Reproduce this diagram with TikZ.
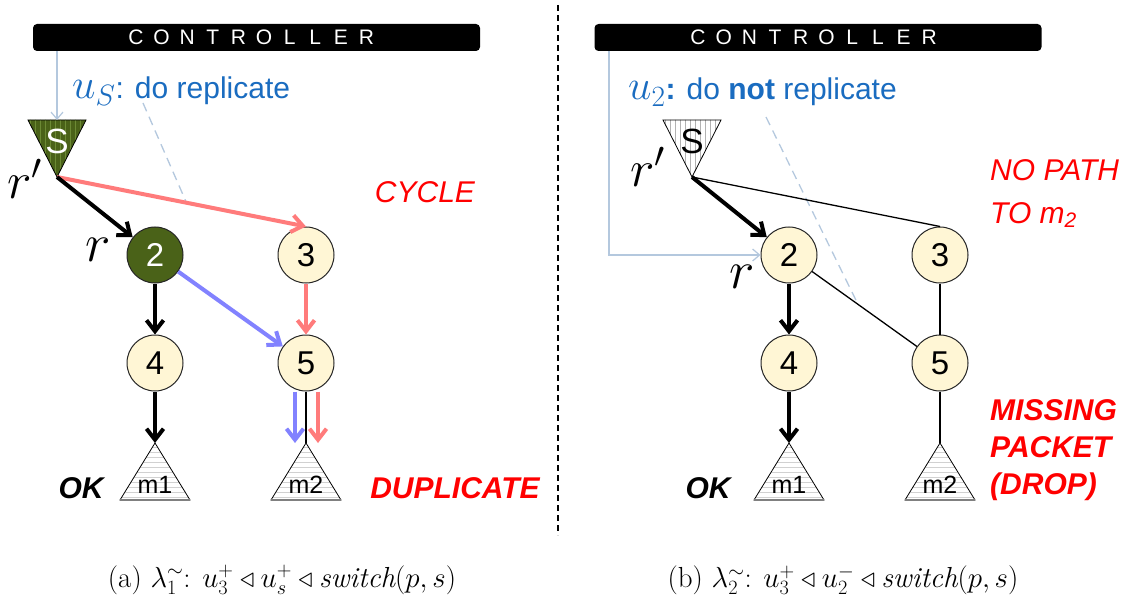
\documentclass[tikz,border=0pt]{standalone}
\usepackage{fix-cm}
\usepackage{fontspec}
\newfontfamily\arial{Liberation Sans}
\usetikzlibrary{arrows.meta,calc}
\definecolor{dgreen}{HTML}{4A6218}
\definecolor{stripeg}{HTML}{6C8A34}
\definecolor{cream}{HTML}{FFF6D5}
\definecolor{salmon}{HTML}{FF7B7B}
\definecolor{lblue}{HTML}{8282FF}
\definecolor{txtblue}{HTML}{1A6CC0}
\definecolor{ctrlline}{HTML}{B4C8DE}
\definecolor{txtred}{HTML}{FF0000}
\newcommand\fsz[1]{\fontsize{#1}{#1}\selectfont}
\tikzset{
  circ/.style={circle, draw=black!85, line width=1pt, fill=cream, minimum size=56pt, inner sep=0pt, font=\arial\fsz{33}},
  ctrlbar/.style={fill=black, rounded corners=4pt, minimum width=447pt, minimum height=27pt, inner sep=0pt},
  ctrltxt/.style={text=white, font=\arial\fsz{21}, inner sep=0pt},
  bigarr/.style={-{Straight Barb[length=11pt,width=17pt]}, line width=4pt, black},
  redarr/.style={-{Straight Barb[length=11pt,width=17pt]}, line width=4pt, salmon},
  bluarr/.style={-{Straight Barb[length=11pt,width=17pt]}, line width=4pt, lblue},
  thinl/.style={line width=1.3pt, black},
  ctrlarr/.style={-{Straight Barb[length=7pt,width=12pt]}, line width=1.2pt, ctrlline},
  dashl/.style={ctrlline, line width=1.3pt, dash pattern=on 9pt off 6pt},
  mtxt/.style={font=\arial\fsz{25}, inner sep=0pt},
  lbl/.style={inner sep=0pt},
  redtxt/.style={text=txtred, font=\arial\itshape\fsz{30}, inner sep=0pt},
  redbold/.style={text=txtred, font=\arial\bfseries\itshape\fsz{30}, inner sep=0pt},
  oktxt/.style={font=\arial\bfseries\itshape\fsz{30}, inner sep=0pt},
  captxt/.style={font=\fsz{29}, inner sep=0pt}
}
% S triangle: name, cx, fill, stripe colour
\newcommand\stri[4]{%
  \begin{scope}
    \clip ({#2-29},-120) -- ({#2+29},-120) -- (#2,-177) -- cycle;
    \fill[#3] ({#2-30},-119) rectangle ({#2+30},-178);
    \foreach \k in {-27,-22,...,28} \draw[#4, line width=0.9pt] ({#2+\k},-119) -- ({#2+\k},-178);
  \end{scope}
  \draw[line width=0.8pt, black] ({#2-29},-120) -- ({#2+29},-120) -- (#2,-177) -- cycle;
  \coordinate (#1) at (#2,-177);
}
% m triangle: name, cx, label
\newcommand\mtri[3]{%
  \begin{scope}
    \clip (#2,-443) -- ({#2-35},-500) -- ({#2+35},-500) -- cycle;
    \fill[white] ({#2-36},-442) rectangle ({#2+36},-501);
    \foreach \k in {-447,-452,...,-500} \draw[black!18, line width=1pt] ({#2-36},\k) -- ({#2+36},\k);
  \end{scope}
  \draw[line width=0.8pt, black] (#2,-443) -- ({#2-35},-500) -- ({#2+35},-500) -- cycle;
  \draw[line width=2pt, black!50] ({#2-35},-500) -- ({#2+35},-500);
  \coordinate (#1) at (#2,-443);
  \node[mtxt] (#1t) at (#2,-485) {#3};
}
\begin{document}
\begin{tikzpicture}[x=1pt,y=1pt]
\useasboundingbox (0,0) rectangle (1127,-604);
\fill[white] (0,0) rectangle (1127,-604);

% divider
\draw[black, line width=1.3pt, dash pattern=on 6pt off 4pt] (558,-5) -- (558,-535);

%% ---------------- left panel ----------------
\node[ctrlbar] (ctrlL) at (256.5,-37.5) {};
\foreach \c [count=\i from 0] in {C,O,N,T,R,O,L,L,E,R}
  \node[ctrltxt] (cl\i) at ({136+25.6*\i},-37.5) {\c};

\stri{Sl}{57}{dgreen}{stripeg}
\node[lbl, text=white, font=\arial\fsz{35}] (Slt) at (57,-141) {S};
\coordinate (SlTop) at (57,-120);
\draw[ctrlarr] (ctrlL.south -| SlTop) -- (SlTop);

\node[lbl, anchor=west, text=txtblue, font=\arial\fsz{30}] (uS) at (72,-91) {\fsz{42}$u_S$\fsz{30}: do replicate};

\node[lbl, font=\fsz{52}] (rpl) at (25,-179) {$r'$};
\node[lbl, font=\fsz{54}] (rl) at (98,-250) {$r$};

\node[circ, fill=dgreen, text=white] (l2) at (155,-255) {2};
\node[circ] (l3) at (306,-255) {3};
\node[circ] (l4) at (155,-363) {4};
\node[circ] (l5) at (306,-363) {5};

\mtri{lm1}{155}{m1}
\mtri{lm2}{306}{m2}

\coordinate (dlA) at (143,-103);
\draw[dashl] (dlA) -- ($(Sl)!0.52!(l3.north)$);

\draw[redarr] (Sl) -- (l3.north);
\draw[bigarr] (Sl) -- (l2);
\draw[bigarr] (l2) -- (l4);
\draw[bluarr] (l2) -- (l5);
\draw[redarr] (l3) -- (l5);
\draw[bigarr] (l4) -- (lm1);
\draw[thinl] (l5) -- (lm2);
\draw[bluarr] ([xshift=-11pt]l5.south) -- ([xshift=-11pt]lm2);
\draw[redarr] ([xshift=12pt]l5.south) -- ([xshift=12pt]lm2);

\node[redtxt] (cyc) at (425,-192) {CYCLE};
\node[oktxt] (okl) at (81,-488) {OK};
\node[redbold] (dup) at (455,-488) {DUPLICATE};

%% ---------------- right panel ----------------
\node[ctrlbar] (ctrlR) at (818,-37.5) {};
\foreach \c [count=\i from 0] in {C,O,N,T,R,O,L,L,E,R}
  \node[ctrltxt] (cr\i) at ({698+25.7*\i},-37.5) {\c};

\stri{Sr}{692}{white}{black!30}
\node[lbl, text=black, font=\arial\fsz{35}] (Srt) at (692,-141) {S};

\node[lbl, anchor=west, text=txtblue, font=\arial\fsz{30}] (u2) at (628,-92) {\fsz{42}$u_2$\fsz{30}\textbf{:} do \textbf{not} replicate};

\node[lbl, font=\fsz{52}] (rpr) at (648,-167) {$r'$};
\node[lbl, font=\fsz{54}] (rr) at (742,-277) {$r$};

\node[circ] (r2) at (789,-255) {2};
\node[circ] (r3) at (940,-255) {3};
\node[circ] (r4) at (789,-363) {4};
\node[circ] (r5) at (940,-363) {5};

\mtri{rm1}{789}{m1}
\mtri{rm2}{940}{m2}

\coordinate (cR) at (609,-51);
\draw[ctrlarr] (cR) |- (r2.west);

\coordinate (dlB) at (766,-117);
\draw[dashl] (dlB) -- ($(r2)!0.457!(r5)$);

\draw[thinl] (Sr) -- (r3.north);
\draw[bigarr] (Sr) -- (r2);
\draw[bigarr] (r2) -- (r4);
\draw[thinl] (r2) -- (r5);
\draw[thinl] (r3) -- (r5);
\draw[bigarr] (r4) -- (rm1);
\draw[thinl] (r5) -- (rm2);

\node[redtxt, anchor=west] (np1) at (990,-170) {NO PATH};
\node[redtxt, anchor=west] (np2) at (990,-215) {TO m\textsubscript{2}};
\node[oktxt] (okr) at (708,-488) {OK};
\node[redbold, anchor=west, align=left, font=\arial\bfseries\itshape\fontsize{30}{37}\selectfont] (miss) at (990,-450) {MISSING\\PACKET\\(DROP)};

%% captions
\node[captxt] (capa) at (282,-580) {(a) $\lambda_1^{\sim}$: $u_3^+ \triangleleft u_s^+ \triangleleft \mathit{switch}(p,s)$};
\node[captxt] (capb) at (843,-580) {(b) $\lambda_2^{\sim}$: $u_3^+ \triangleleft u_2^- \triangleleft \mathit{switch}(p,s)$};
\end{tikzpicture}
\end{document}
